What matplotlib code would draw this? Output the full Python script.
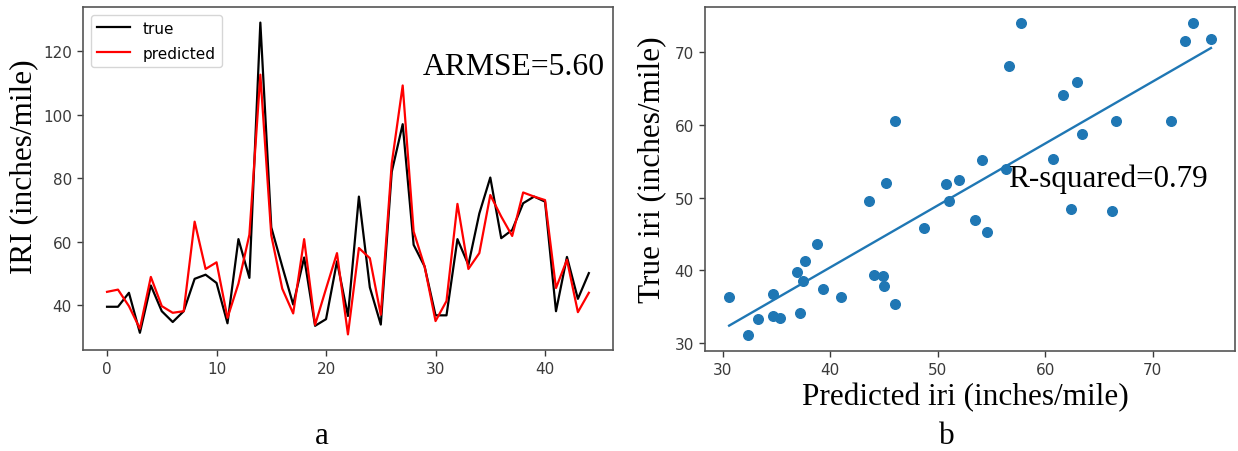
import numpy as np
import matplotlib
matplotlib.use("Agg")
import matplotlib.pyplot as plt

# panel a: IRI per sample, true vs predicted
idx = list(range(45))
iri_true = [39.5, 39.5, 43.9, 31.3, 46.2, 38.1, 34.7, 38.1, 48.3, 49.6,
            47.0, 34.3, 60.8, 48.6, 129.0, 64.5, 52.2, 40.2, 55.0, 33.5,
            35.6, 53.8, 36.6, 74.2, 45.6, 33.9, 82.0, 97.0, 59.0, 52.2,
            36.8, 36.8, 60.8, 52.7, 68.9, 80.2, 61.1, 63.7, 72.1, 74.2,
            72.6, 38.1, 55.2, 42.0, 50.1]
iri_pred = [44.2, 44.9, 39.7, 32.6, 48.9, 39.7, 37.6, 38.1, 66.3, 51.4,
            53.5, 36.0, 46.8, 62.2, 112.6, 62.0, 45.2, 37.4, 60.8, 33.8,
            45.2, 56.4, 30.8, 58.0, 54.8, 37.0, 84.6, 109.2, 63.2, 52.2,
            35.0, 41.3, 71.9, 51.4, 56.4, 74.7, 67.9, 61.8, 75.5, 74.2,
            73.1, 45.4, 54.3, 37.8, 43.9]

# panel b: predicted vs true iri
pred_iri = [30.6, 32.4, 33.25, 34.7, 34.7, 35.3, 37.2, 36.9, 37.7, 37.5,
            38.8, 39.3, 41.0, 43.6, 44.1, 44.9, 45.0, 45.2, 46.0, 46.0,
            48.7, 50.8, 51.0, 52.0, 53.5, 54.6, 54.1, 56.3, 56.6, 57.7,
            60.7, 61.6, 62.9, 62.4, 63.4, 66.2, 66.6, 71.7, 73.0, 73.7, 75.4]
true_iri = [36.4, 31.1, 33.3, 36.7, 33.7, 33.5, 34.1, 39.8, 41.3, 38.5,
            43.7, 37.4, 36.4, 49.6, 39.4, 39.3, 37.9, 52.0, 60.6, 35.4,
            45.9, 51.9, 49.6, 52.4, 46.9, 45.3, 55.2, 53.9, 68.1, 74.1,
            55.4, 64.1, 65.9, 48.4, 58.8, 48.2, 60.6, 60.6, 71.6, 74.1, 71.8]

serif = "Liberation Serif"
tick_col = "#3a3a3a"
spine_col = "#555555"

fig = plt.figure(figsize=(12.38, 4.52), dpi=100)
ax1 = fig.add_axes([0.0670, 0.2235, 0.4281, 0.7588])
ax2 = fig.add_axes([0.5695, 0.2218, 0.4281, 0.7605])

ax1.plot(idx, iri_true, color="black", lw=1.6, label="true")
ax1.plot(idx, iri_pred, color="red", lw=1.6, label="predicted")
ax1.set_xticks([0, 10, 20, 30, 40])
ax1.set_yticks([40, 60, 80, 100, 120])
ax1.legend(loc="upper left", fontsize=11, handlelength=2.2, labelspacing=0.65)
ax1.text(0.6415, 0.805, "ARMSE=5.60", transform=ax1.transAxes,
         fontsize=22.8, family=serif, va="baseline")

ax2.scatter(pred_iri, true_iri, s=48, color="#1f77b4")
k, b = np.polyfit(pred_iri, true_iri, 1)
xs = np.array([min(pred_iri), max(pred_iri)])
ax2.plot(xs, k * xs + b, color="#1f77b4", lw=1.7)
ax2.set_xticks([30, 40, 50, 60, 70])
ax2.set_yticks([30, 40, 50, 60, 70])
ax2.text(0.5717, 0.48, "R-squared=0.79", transform=ax2.transAxes,
         fontsize=22.4, family=serif, va="baseline")

for ax in (ax1, ax2):
    ax.tick_params(labelsize=11, colors=tick_col, length=4.5, width=1.0)
    for sp in ax.spines.values():
        sp.set_color(spine_col)
        sp.set_linewidth(1.2)

# labels added outside the plots
fig.text(24 / 1238, 1 - 167 / 452, "IRI (inches/mile)", rotation=90,
         ha="center", va="center", fontsize=22.5, family=serif)
fig.text(652 / 1238, 1 - 170 / 452, "True iri (inches/mile)", rotation=90,
         ha="center", va="center", fontsize=22.5, family=serif)
fig.text(965 / 1238, 1 - 405 / 452, "Predicted iri (inches/mile)",
         ha="center", va="baseline", fontsize=22.5, family=serif)
fig.text(322 / 1238, 1 - 444.5 / 452, "a", ha="center", va="baseline",
         fontsize=22.5, family=serif)
fig.text(947 / 1238, 1 - 444.5 / 452, "b", ha="center", va="baseline",
         fontsize=22.5, family=serif)

fig.savefig("out.png", dpi=100)
